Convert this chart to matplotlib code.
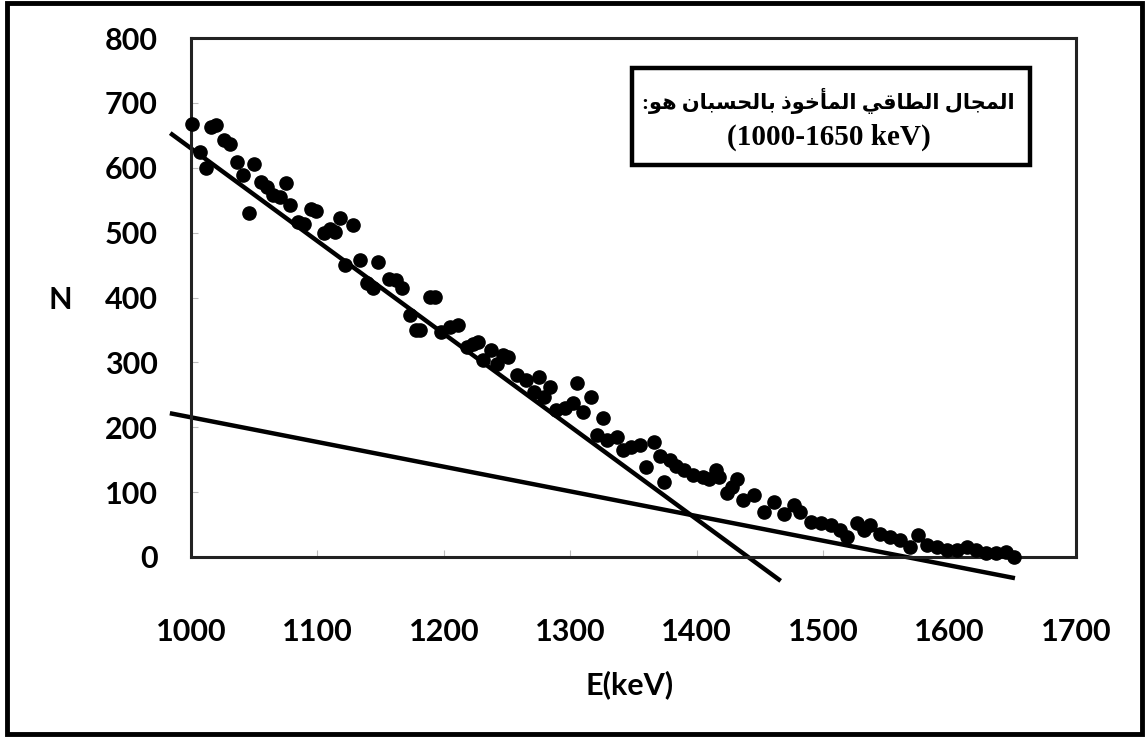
import matplotlib
matplotlib.use("Agg")
import matplotlib.pyplot as plt
from matplotlib.patches import Rectangle

# measured spectrum points (keV, counts)
energy = [
    1001, 1007, 1012, 1016, 1020, 1026, 1031, 1036, 1041, 1046,
    1050, 1055, 1060, 1065, 1070, 1075, 1078, 1085, 1089, 1095,
    1099, 1105, 1110, 1114, 1118, 1122, 1128, 1134, 1139, 1144,
    1148, 1157, 1162, 1167, 1173, 1178, 1181, 1189, 1193, 1198,
    1205, 1211, 1218, 1223, 1227, 1231, 1237, 1242, 1247, 1251,
    1258, 1265, 1271, 1275, 1279, 1284, 1289, 1296, 1302, 1305,
    1310, 1316, 1321, 1326, 1329, 1337, 1342, 1348, 1355, 1360,
    1366, 1371, 1374, 1379, 1384, 1390, 1397, 1405, 1410, 1415,
    1418, 1424, 1428, 1432, 1437, 1445, 1453, 1461, 1469, 1477,
    1482, 1490, 1498, 1506, 1513, 1519, 1527, 1532, 1537, 1545,
    1553, 1561, 1569, 1575, 1582, 1590, 1598, 1606, 1614, 1621,
    1629, 1637, 1645, 1651,
]
counts = [
    668, 624, 599, 663, 666, 643, 637, 609, 589, 530,
    606, 578, 570, 558, 555, 576, 542, 517, 514, 537,
    534, 499, 506, 501, 522, 450, 511, 458, 422, 414,
    455, 429, 427, 414, 373, 350, 350, 401, 401, 347,
    355, 357, 324, 329, 332, 304, 319, 298, 311, 309,
    280, 273, 255, 278, 247, 262, 226, 229, 237, 268,
    224, 247, 188, 214, 180, 185, 165, 170, 173, 139,
    178, 155, 116, 150, 140, 134, 126, 124, 121, 134,
    124, 98, 108, 121, 88, 96, 70, 85, 67, 80,
    70, 54, 52, 49, 42, 31, 52, 42, 49, 36,
    31, 26, 16, 34, 18, 16, 11, 11, 16, 11,
    6, 6, 8, 0,
]

# two straight fits drawn by hand (end points)
fit1_E = [985, 1465]
fit1_N = [651.4, -34.8]
fit2_E = [985, 1650]
fit2_N = [221.0, -32.0]

x_ticks = [1000, 1100, 1200, 1300, 1400, 1500, 1600, 1700]
y_ticks = [0, 100, 200, 300, 400, 500, 600, 700, 800]

note_ar = "المجال الطاقي المأخوذ بالحسبان هو:"
note_range = "(1000-1650 keV)"

# --- minimal arabic shaping (matplotlib does no shaping / bidi) ---
# letter: (isolated, final, initial, medial); None -> does not join forward
_FORMS = {
    "ا": (0xFE8D, 0xFE8E, None, None),
    "أ": (0xFE83, 0xFE84, None, None),
    "ب": (0xFE8F, 0xFE90, 0xFE91, 0xFE92),
    "ج": (0xFE9D, 0xFE9E, 0xFE9F, 0xFEA0),
    "ح": (0xFEA1, 0xFEA2, 0xFEA3, 0xFEA4),
    "خ": (0xFEA5, 0xFEA6, 0xFEA7, 0xFEA8),
    "ذ": (0xFEAB, 0xFEAC, None, None),
    "س": (0xFEB1, 0xFEB2, 0xFEB3, 0xFEB4),
    "ط": (0xFEC1, 0xFEC2, 0xFEC3, 0xFEC4),
    "ق": (0xFED5, 0xFED6, 0xFED7, 0xFED8),
    "ل": (0xFEDD, 0xFEDE, 0xFEDF, 0xFEE0),
    "م": (0xFEE1, 0xFEE2, 0xFEE3, 0xFEE4),
    "ن": (0xFEE5, 0xFEE6, 0xFEE7, 0xFEE8),
    "ه": (0xFEE9, 0xFEEA, 0xFEEB, 0xFEEC),
    "و": (0xFEED, 0xFEEE, None, None),
    "ي": (0xFEF1, 0xFEF2, 0xFEF3, 0xFEF4),
}


def shape_arabic(s):
    out = []
    for i, ch in enumerate(s):
        if ch not in _FORMS:
            out.append(ch)
            continue
        prev = s[i - 1] if i > 0 else ""
        nxt = s[i + 1] if i + 1 < len(s) else ""
        joins_prev = prev in _FORMS and _FORMS[prev][2] is not None
        joins_next = nxt in _FORMS and _FORMS[ch][2] is not None
        iso, fin, ini, med = _FORMS[ch]
        if joins_prev and joins_next:
            code = med
        elif joins_prev:
            code = fin
        elif joins_next:
            code = ini
        else:
            code = iso
        out.append(chr(code))
    return "".join(reversed(out))


W, H = 1147, 738
fig = plt.figure(figsize=(W / 100, H / 100), dpi=100, facecolor="white")
ax = fig.add_axes([191 / W, 1 - 557 / H, (1076 - 191) / W, (557 - 38) / H])

tick_font = {"family": "Lato", "weight": "bold", "size": 22}

ax.plot(energy, counts, "o", color="black", markersize=9.5, zorder=3, clip_on=False)
ax.plot(fit1_E, fit1_N, "-", color="black", linewidth=3.2, clip_on=False, zorder=2)
ax.plot(fit2_E, fit2_N, "-", color="black", linewidth=3.2, clip_on=False, zorder=2)

ax.set_xlim(1000, 1700)
ax.set_ylim(0, 800)
ax.set_xticks(x_ticks)
ax.set_yticks(y_ticks)
ax.set_xticklabels([str(v) for v in x_ticks], fontdict=tick_font)
ax.set_yticklabels([str(v) for v in y_ticks], fontdict=tick_font)
ax.tick_params(axis="x", direction="in", length=5, color="#bbbbbb", pad=44)
ax.tick_params(axis="y", direction="in", length=5, color="#bbbbbb", pad=24)
for sp in ax.spines.values():
    sp.set_linewidth(2.2)
    sp.set_color("#222222")

fig.text(60 / W, 1 - 300 / H, "N", ha="center", va="center", **tick_font)
fig.text(630 / W, 1 - 685 / H, "E(keV)", ha="center", va="center", **tick_font)

# note box
fig.patches.append(Rectangle((632 / W, 1 - 165 / H), 398 / W, 97 / H,
                             transform=fig.transFigure, fill=True,
                             facecolor="white", edgecolor="black",
                             linewidth=3.2, zorder=5))
fig.text(828 / W, 1 - 101 / H, shape_arabic(note_ar), ha="center", va="center",
         family=["Liberation Serif", "DejaVu Sans"], weight="bold", size=15,
         zorder=6)
fig.text(829 / W, 1 - 137 / H, note_range, ha="center", va="center",
         family="Liberation Serif", weight="bold", size=21, zorder=6)

# outer frame
fig.patches.append(Rectangle((7 / W, 1 - 734 / H), 1135 / W, 731 / H,
                             transform=fig.transFigure, fill=False,
                             edgecolor="black", linewidth=3.5, zorder=5))

fig.savefig("out.png", dpi=100, facecolor="white")
